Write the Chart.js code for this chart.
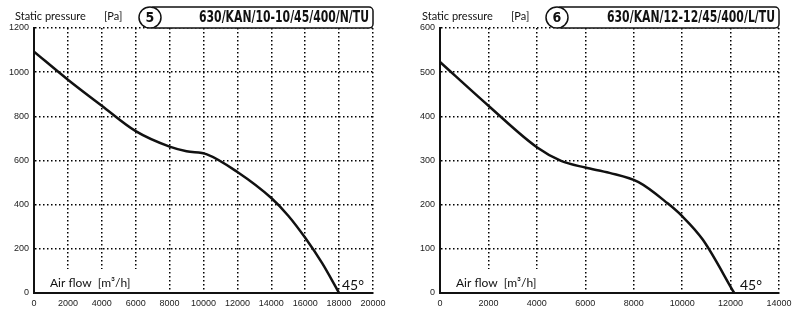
<!DOCTYPE html>
<html>
<head>
<meta charset="utf-8">
<script src="https://cdn.jsdelivr.net/npm/chart.js@4"></script>
<style>
  html, body { margin: 0; padding: 0; background: #fff; }
  .wrap { display: flex; width: 800px; height: 324px; }
  .box { position: relative; width: 400px; height: 324px; }
</style>
</head>
<body>
<div class="wrap">
  <div class="box"><canvas id="chart5"></canvas></div>
  <div class="box"><canvas id="chart6"></canvas></div>
</div>
<script>
// fan 5 : 630/KAN/10-10/45/400/N/TU
var flow5 = [0, 2000, 4000, 6000, 8000, 9000, 10200, 12000, 14000, 15000, 16000, 17000, 18000];
var press5 = [1093, 966, 848, 733, 663, 642, 628, 548, 430, 350, 250, 135, 0];
var xTicks5 = [0, 20000, 2000];
var yTicks5 = [0, 1200, 200];

// fan 6 : 630/KAN/12-12/45/400/L/TU
var flow6 = [0, 2000, 4000, 5000, 6000, 7000, 8200, 9400, 10000, 10850, 12150];
var press6 = [523, 424, 330, 299, 284, 272, 251, 203, 174, 121, 0];
var xTicks6 = [0, 14000, 2000];
var yTicks6 = [0, 600, 100];

var tickFont = { family: '"Liberation Sans", Arial, sans-serif', size: 9 };
var labelFont = '11px Lato, "Liberation Sans", sans-serif';

var decoPlugin = {
    id: 'deco',
    beforeDatasetsDraw: function (chart) {
        var d = chart.options.plugins.deco;
        var ctx = chart.ctx;
        var a = chart.chartArea;
        ctx.save();
        // clear grid under the air flow label
        ctx.fillStyle = '#fff';
        ctx.fillRect(a.left + 2, 269, d.coverW, a.bottom - 270);
        ctx.fillStyle = '#111';
        ctx.font = '12px Lato, "Liberation Sans", sans-serif';
        ctx.textBaseline = 'middle';
        ctx.textAlign = 'left';
        ctx.fillText('Air flow  [m³/h]', a.left + 16, 283);
        ctx.font = '14px Lato, "Liberation Sans", sans-serif';
        ctx.fillText('45°', d.degX, 285);
        ctx.restore();
    },
    afterDraw: function (chart) {
        var d = chart.options.plugins.deco;
        var ctx = chart.ctx;
        var a = chart.chartArea;
        ctx.save();
        ctx.fillStyle = '#111';
        ctx.font = labelFont;
        ctx.textBaseline = 'middle';
        ctx.textAlign = 'left';
        ctx.fillText('Static pressure', d.spX, 16);
        ctx.fillText('[Pa]', d.spX + 89, 16);

        // title box
        var cx = d.boxX + 11;
        ctx.lineWidth = 1.5;
        ctx.strokeStyle = '#111';
        ctx.fillStyle = '#fff';
        ctx.beginPath();
        ctx.roundRect(cx, 7, a.right - cx, 21, 4);
        ctx.fill();
        ctx.stroke();
        ctx.beginPath();
        ctx.ellipse(cx, 17.5, 11, 10.5, 0, 0, Math.PI * 2);
        ctx.fill();
        ctx.stroke();

        ctx.fillStyle = '#111';
        ctx.textAlign = 'center';
        ctx.font = 'bold 14px "DejaVu Sans Condensed", "Liberation Sans", sans-serif';
        ctx.fillText(d.num, cx, 18);

        // condensed bold title, squeezed to the width in the original
        ctx.font = 'bold 16px "DejaVu Sans Condensed", "Liberation Sans", sans-serif';
        var w = ctx.measureText(d.title).width;
        var sx = Math.min(1, d.titleW / w);
        ctx.translate(a.right - 4, 18);
        ctx.scale(sx, 1);
        ctx.textAlign = 'right';
        ctx.fillText(d.title, 0, 0);
        ctx.restore();
    }
};

function makeChart(id, flow, press, xt, yt, leftW, rightPad, deco) {
    var pts = flow.map(function (f, i) { return { x: f, y: press[i] }; });
    var plain = function (v) { return String(v); };
    return new Chart(document.getElementById(id), {
        type: 'line',
        data: {
            datasets: [{
                data: pts,
                borderColor: '#111',
                borderWidth: 2.5,
                pointRadius: 0,
                fill: false,
                cubicInterpolationMode: 'monotone'
            }]
        },
        options: {
            responsive: false,
            animation: false,
            layout: { padding: { top: 28, right: rightPad, left: 0, bottom: 0 } },
            plugins: {
                legend: { display: false },
                tooltip: { enabled: false },
                deco: deco
            },
            scales: {
                x: {
                    type: 'linear',
                    min: xt[0], max: xt[1],
                    ticks: { stepSize: xt[2], color: '#222', font: tickFont, padding: 5, maxRotation: 0, callback: plain },
                    grid: { color: '#000', lineWidth: 1.5, drawTicks: false },
                    border: { display: true, color: '#111', width: 2, dash: [1.5, 2.5] },
                    afterFit: function (s) { s.height = 31; }
                },
                y: {
                    min: yt[0], max: yt[1],
                    ticks: { stepSize: yt[2], color: '#222', font: tickFont, padding: 5, callback: plain },
                    grid: { color: '#000', lineWidth: 1.5, drawTicks: false },
                    border: { display: true, color: '#111', width: 2, dash: [1.5, 2.5] },
                    afterFit: function (s) { s.width = leftW; }
                }
            }
        },
        plugins: [decoPlugin]
    });
}

document.getElementById('chart5').width = 400;
document.getElementById('chart5').height = 324;
document.getElementById('chart6').width = 400;
document.getElementById('chart6').height = 324;

makeChart('chart5', flow5, press5, xTicks5, yTicks5, 34, 27,
    { num: '5', title: '630/KAN/10-10/45/400/N/TU', titleW: 170, boxX: 139, spX: 15, degX: 342, coverW: 104 });
makeChart('chart6', flow6, press6, xTicks6, yTicks6, 40, 21,
    { num: '6', title: '630/KAN/12-12/45/400/L/TU', titleW: 168, boxX: 146, spX: 22, degX: 340, coverW: 98 });
</script>
</body>
</html>
